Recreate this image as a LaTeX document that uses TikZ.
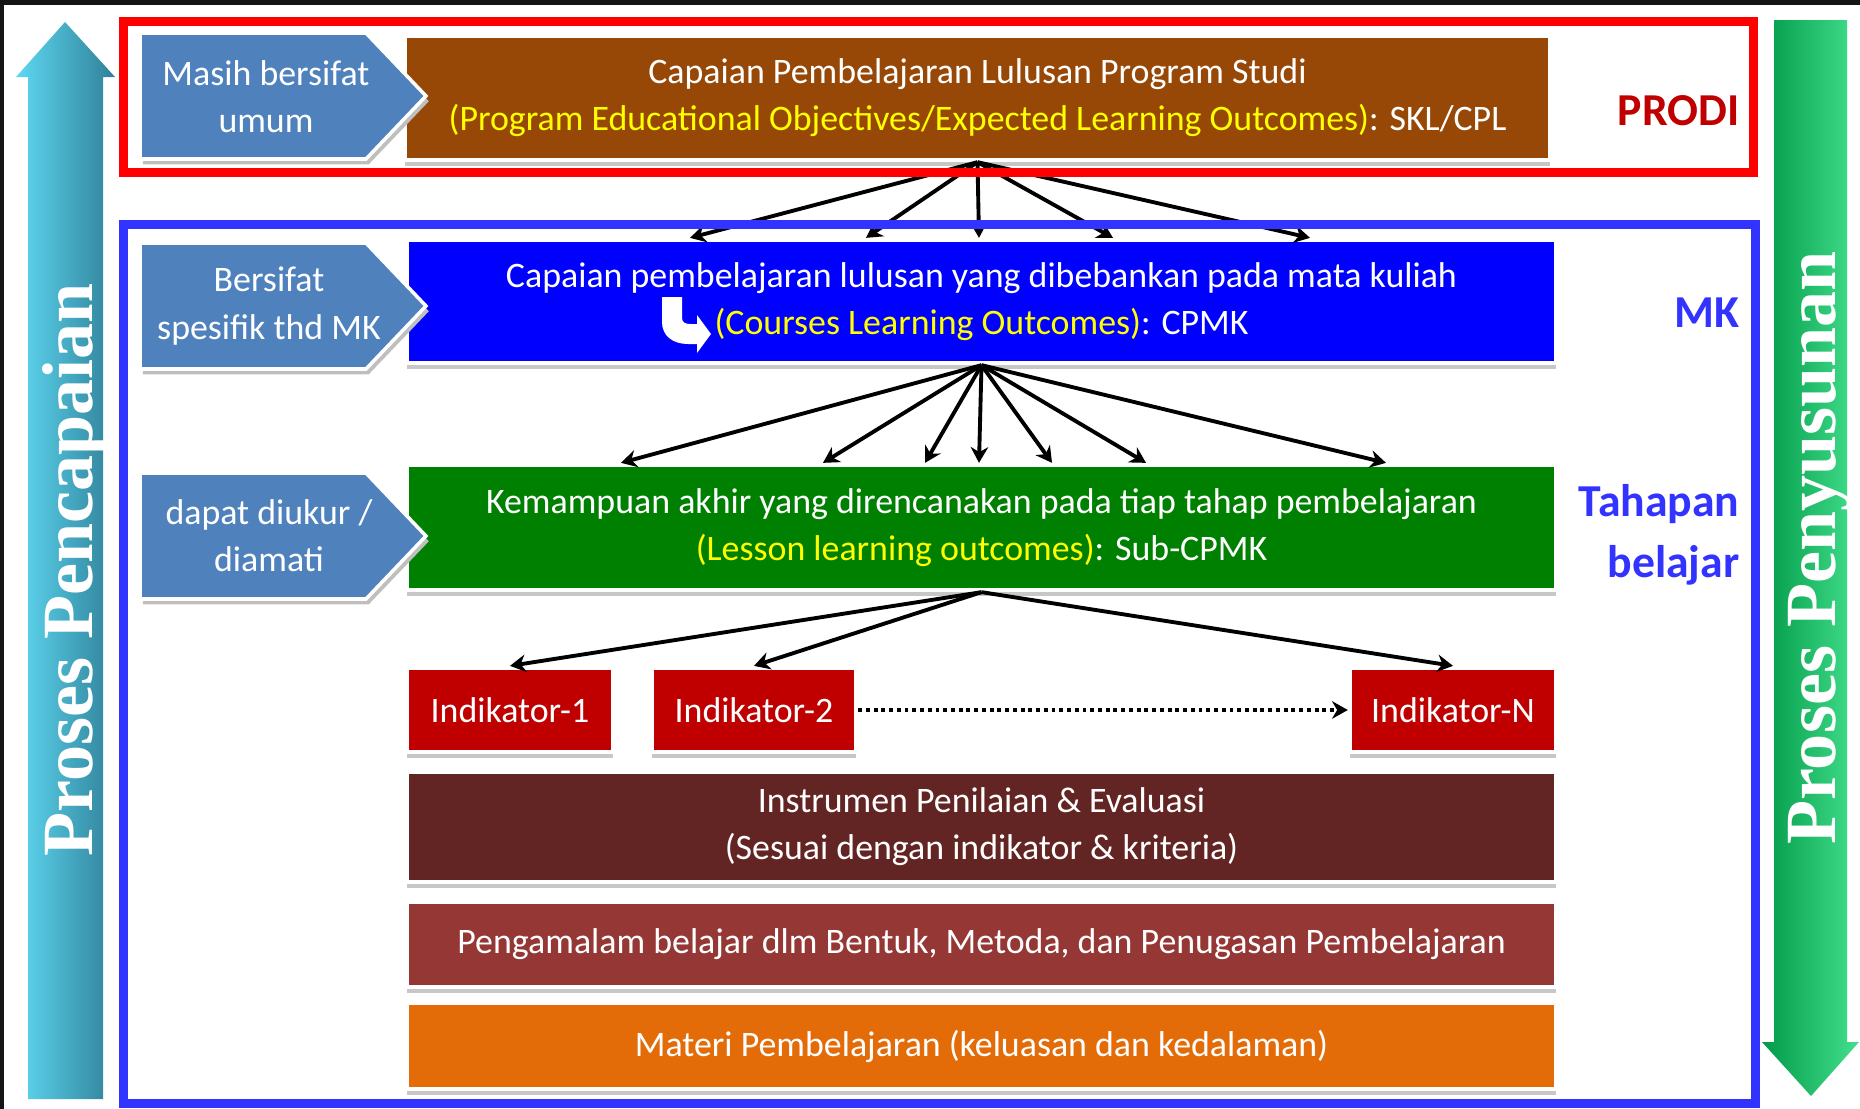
\documentclass[tikz,border=0pt]{standalone}
\usepackage{fontspec}
\setmainfont{Carlito}
\newfontfamily\vfont{Liberation Serif}
\usetikzlibrary{arrows.meta,shadows}

\definecolor{FrameRed}{HTML}{FF0000}
\definecolor{FrameBlue}{HTML}{3333FF}
\definecolor{ChevBlue}{HTML}{4F81BD}
\definecolor{CplBrown}{HTML}{974806}
\definecolor{CpmkBlue}{HTML}{0000FF}
\definecolor{SubGreen}{HTML}{008000}
\definecolor{IndRed}{HTML}{C00000}
\definecolor{InstrBrown}{HTML}{632523}
\definecolor{ExpRed}{HTML}{953735}
\definecolor{MatOrange}{HTML}{E36C09}
\definecolor{Kuning}{HTML}{FFFF00}
\definecolor{LabelRed}{HTML}{C00000}
\definecolor{LabelBlue}{HTML}{3333FF}
\definecolor{CyanL}{HTML}{5FD8F2}
\definecolor{CyanM}{HTML}{3DB6D6}
\definecolor{CyanR}{HTML}{2F8098}
\definecolor{GreenL}{HTML}{009A48}
\definecolor{GreenM}{HTML}{00B050}
\definecolor{GreenR}{HTML}{45E08E}

\begin{document}
\begin{tikzpicture}[x=0.01cm, y=-0.01cm,
	box/.style={draw=white, line width=1.2pt, text=white, align=center, inner sep=0pt,
		font=\fontsize{10.2}{13.4}\selectfont,
		drop shadow={shadow xshift=0pt, shadow yshift=-1.8pt, fill=black!22, opacity=1}},
	chev/.style={fill=ChevBlue, draw=white, line width=1pt,
		drop shadow={shadow xshift=0.8pt, shadow yshift=-1.5pt, fill=black!25, opacity=1}},
	tagtext/.style={text=white, align=center, font=\fontsize{10.2}{13.4}\selectfont},
	side/.style={inner sep=0pt, font=\bfseries\fontsize{13}{17.5}\selectfont},
	vtext/.style={text=white, rotate=90, anchor=base, inner sep=0pt,
		font=\vfont\bfseries\fontsize{20.5}{20}\selectfont},
	arr/.style={line width=1.1pt, -{Stealth[length=4.5pt, width=5pt]}},
	]
	\fill[white] (0,0) rectangle (1860,1109);
	\useasboundingbox (0,0) rectangle (1860,1109);
	\fill[black!92] (0,0) rectangle (1860,5);
	\fill[black!92] (0,0) rectangle (4,1109);

	% side arrows
	\path[left color=CyanL, middle color=CyanM, right color=CyanR]
		(28,1099) -- (28,77) -- (16,77) -- (65,22) -- (115,77) -- (103,77) -- (103,1099) -- cycle;
	\path[left color=GreenL, middle color=GreenM, right color=GreenR]
		(1774,20) -- (1847,20) -- (1847,1042) -- (1859,1042) -- (1811,1096) -- (1762,1042) -- (1774,1042) -- cycle;
	\node[vtext] (capai) at (92,570) {Proses Pencapaian};
	\node[vtext] (susun) at (1835,548) {Proses Penyusunan};

	% boxes
	\node[box, fill=CplBrown, minimum width=11.45cm, minimum height=1.24cm] (cpl) at (977.5,98)
		{Capaian Pembelajaran Lulusan Program Studi\\\textcolor{Kuning}{(Program Educational Objectives/Expected Learning Outcomes)}: SKL/CPL};
	\node[box, fill=CpmkBlue, minimum width=11.49cm, minimum height=1.23cm] (cpmk) at (981.5,301.5)
		{Capaian pembelajaran lulusan yang dibebankan pada mata kuliah\\\textcolor{Kuning}{(Courses Learning Outcomes)}: CPMK};
	\node[box, fill=SubGreen, minimum width=11.49cm, minimum height=1.25cm] (subcpmk) at (981.5,527.5)
		{Kemampuan akhir yang direncanakan pada tiap tahap pembelajaran\\\textcolor{Kuning}{(Lesson learning outcomes)}: Sub-CPMK};
	\node[box, fill=IndRed, minimum width=2.06cm, minimum height=0.84cm] (ind1) at (510,710) {Indikator-1};
	\node[box, fill=IndRed, minimum width=2.04cm, minimum height=0.84cm] (ind2) at (754,710) {Indikator-2};
	\node[box, fill=IndRed, minimum width=2.06cm, minimum height=0.84cm] (indn) at (1453,710) {Indikator-N};
	\node[box, fill=InstrBrown, minimum width=11.49cm, minimum height=1.10cm] (instr) at (981.5,827)
		{Instrumen Penilaian \& Evaluasi\\(Sesuai dengan indikator \& kriteria)};
	\node[box, fill=ExpRed, minimum width=11.49cm, minimum height=0.85cm] (exper) at (981.5,944.5)
		{Pengamalam belajar dlm Bentuk, Metoda, dan Penugasan Pembelajaran};
	\node[box, fill=MatOrange, minimum width=11.49cm, minimum height=0.86cm] (mater) at (981.5,1046)
		{Materi Pembelajaran (keluasan dan kedalaman)};

	% chevrons, over the left end of the boxes
	\foreach \y in {33,243,473}
		\draw[chev] (140,\y) -- (366,\y) -- (426,\y+63) -- (366,\y+126) -- (140,\y+126) -- cycle;
	\node[tagtext] (umum) at (266,97) {Masih bersifat\\umum};
	\node[tagtext] (spesifik) at (269,306) {Bersifat\\spesifik thd MK};
	\node[tagtext] (ukur) at (269,536) {dapat diukur /\\diamati};

	% bent arrow in the CPMK box
	\fill[white] (662,297) -- (682,297) -- (682,318) .. controls (682,322) and (685,324) .. (690,324)
		-- (697,324) -- (697,315) -- (711,334) -- (697,353) -- (697,344) -- (688,344)
		.. controls (673,344) and (662,336) .. (662,322) -- cycle;

	% connectors
	\foreach \x in {690,866,979,1113,1310}
		\draw[arr] (cpl.south) -- (cpmk.north -| \x,0);
	\foreach \x in {621,823,925,979,1052,1146,1386}
		\draw[arr] (cpmk.south) -- (subcpmk.north -| \x,0);
	\foreach \t in {ind1,ind2,indn}
		\draw[arr] (subcpmk.south) -- (\t.north);
	\draw[arr, dash pattern=on 1.1pt off 1.1pt] (ind2.east) -- (indn.west);

	% frames
	\draw[line width=2.56pt, FrameRed] (123.5,21.5) rectangle (1753.5,172.5);
	\draw[line width=2.56pt, FrameBlue] (123.5,224.5) rectangle (1755.5,1103.5);

	% level labels
	\node[side, text=LabelRed, anchor=east] (prodi) at (1740,111) {PRODI};
	\node[side, text=LabelBlue, anchor=east] (mk) at (1740,313) {MK};
	\node[side, text=LabelBlue, anchor=east, align=right] (tahap) at (1740,535) {Tahapan\\belajar};
\end{tikzpicture}
\end{document}
